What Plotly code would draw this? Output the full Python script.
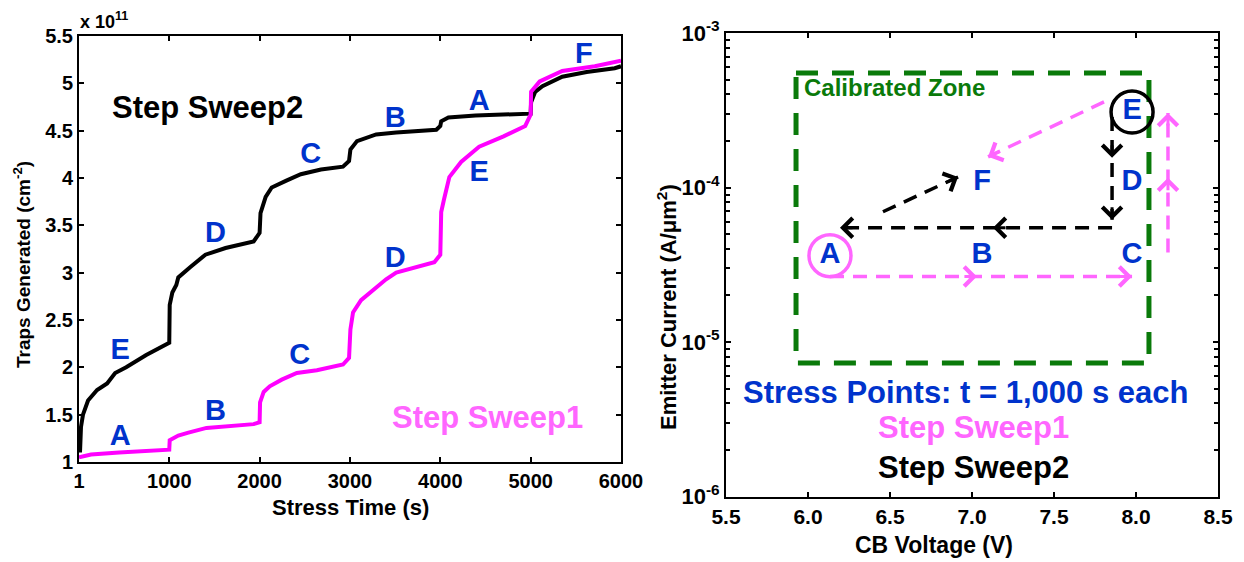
import math
import plotly.graph_objects as go

# ---------------- Left panel data (Traps Generated, x 1e11 cm^-2) ----------------
time_sweep2 = [12, 23, 45, 101, 201, 312, 401, 523, 745, 923, 1000, 1005, 1034, 1078, 1100, 1234,
               1400, 1623, 1934, 2000, 2010, 2067, 2134, 2290, 2456, 2679, 2923, 2990, 3005, 3078,
               3290, 3512, 3956, 4000, 4010, 4090, 4390, 5000, 5005, 5050, 5130, 5350, 5620, 5930, 6000]
traps_sweep2 = [1.10, 1.37, 1.50, 1.65, 1.76, 1.83, 1.94, 2.00, 2.13, 2.22, 2.26, 2.66, 2.79, 2.87, 2.95, 3.06,
                3.19, 3.26, 3.33, 3.42, 3.63, 3.80, 3.90, 3.97, 4.04, 4.09, 4.12, 4.18, 4.30, 4.39,
                4.46, 4.48, 4.51, 4.55, 4.60, 4.64, 4.66, 4.68, 4.80, 4.91, 4.97, 5.07, 5.12, 5.16, 5.18]

time_sweep1 = [1, 134, 445, 967, 1000, 1005, 1100, 1212, 1412, 1934, 2000, 2005, 2045, 2112, 2245, 2412,
               2634, 2923, 2990, 3005, 3034, 3123, 3256, 3400, 3512, 3934, 4000, 4010, 4040, 4100, 4230,
               4430, 4700, 4940, 5000, 5005, 5100, 5350, 5710, 5930, 6000]
traps_sweep1 = [1.05, 1.08, 1.10, 1.12, 1.13, 1.23, 1.28, 1.31, 1.36, 1.40, 1.42, 1.63, 1.74, 1.80, 1.87, 1.94,
                1.97, 2.03, 2.10, 2.40, 2.58, 2.71, 2.82, 2.93, 3.00, 3.11, 3.19, 3.64, 3.77, 4.01, 4.17,
                4.33, 4.44, 4.55, 4.67, 4.91, 5.02, 5.13, 5.18, 5.22, 5.24]

left_x_ticks = [1, 1000, 2000, 3000, 4000, 5000, 6000]
left_y_ticks = [1, 1.5, 2, 2.5, 3, 3.5, 4, 4.5, 5, 5.5]

# stress point labels on the curves
sweep2_lbl = ["E", "D", "C", "B", "A", "F"]
sweep2_lbl_x = [456, 1511, 2566, 3500, 4430, 5590]
sweep2_lbl_y = [2.16, 3.40, 4.23, 4.62, 4.80, 5.29]
sweep1_lbl = ["A", "B", "C", "D", "E"]
sweep1_lbl_x = [456, 1511, 2443, 3500, 4430]
sweep1_lbl_y = [1.26, 1.52, 2.11, 3.14, 4.04]

# ---------------- Right panel data (stress map) ----------------
right_x_ticks = [5.5, 6.0, 6.5, 7.0, 7.5, 8.0, 8.5]
right_y_ticks = [1e-6, 1e-5, 1e-4, 1e-3]
right_y_text = ["10<sup>-6</sup>", "10<sup>-5</sup>", "10<sup>-4</sup>", "10<sup>-3</sup>"]
right_y_minor = [m * 10.0 ** e for e in (-6, -5, -4) for m in range(2, 10)]

point_names = ["A", "B", "C", "D", "E", "F"]
point_vcb = [6.134, 7.061, 7.976, 7.976, 7.976, 7.061]
point_ie = [3.62e-5, 3.62e-5, 3.62e-5, 1.07e-4, 3.08e-4, 1.07e-4]

zone_v = [5.927, 8.079, 8.079, 5.927, 5.927]
zone_i = [5.51e-4, 5.51e-4, 7.31e-6, 7.31e-6, 5.51e-4]

# sweep paths: (V list, I list)
sweep1_paths = [
    ([6.134, 7.03, 7.976], [2.65e-5, 2.65e-5, 2.65e-5]),
    ([8.195, 8.195, 8.195], [3.79e-5, 1.156e-4, 3.04e-4]),
    ([7.805, 7.098], [3.58e-4, 1.58e-4]),
]
sweep2_paths = [
    ([7.854, 7.854, 7.854], [2.86e-4, 1.56e-4, 6.18e-5]),
    ([7.854, 7.128, 6.195], [5.49e-5, 5.49e-5, 5.49e-5]),
    ([6.457, 6.915], [6.97e-5, 1.17e-4]),
]

FONT = "Liberation Sans, Arial, sans-serif"
BLUE = "#0033cc"
MAG = "#ff00ff"
PINK = "#ff66ff"
GREEN = "#0a7a0a"

# page body has an 8px margin; figure is placed at (8, 8) in the window
OFF = 8
W, H = 1244 - OFF, 562 - OFF
def px(x):
    return (x - OFF) / W
def py(y):
    return 1 - (y - OFF) / H

# right panel pixel geometry (used for arrowhead orientation)
R_X0, R_X1, R_Y0, R_Y1 = 726, 1218, 33, 496.5
R_XR, R_YR = (5.5, 8.5), (-6, -3)
PX_PER_V = (R_X1 - R_X0) / (R_XR[1] - R_XR[0])
PX_PER_DEC = (R_Y1 - R_Y0) / (R_YR[1] - R_YR[0])

fig = go.Figure()

# left curves
fig.add_trace(go.Scatter(x=time_sweep2, y=traps_sweep2, mode="lines",
                         line=dict(color="black", width=4), xaxis="x", yaxis="y"))
fig.add_trace(go.Scatter(x=time_sweep1, y=traps_sweep1, mode="lines",
                         line=dict(color=MAG, width=4), xaxis="x", yaxis="y"))
lbl_font = dict(family=FONT, size=29, color=BLUE, weight="bold")
fig.add_trace(go.Scatter(x=sweep2_lbl_x, y=sweep2_lbl_y, mode="text", text=sweep2_lbl,
                         textfont=lbl_font, xaxis="x", yaxis="y"))
fig.add_trace(go.Scatter(x=sweep1_lbl_x, y=sweep1_lbl_y, mode="text", text=sweep1_lbl,
                         textfont=lbl_font, xaxis="x", yaxis="y"))

# right: calibrated zone
fig.add_trace(go.Scatter(x=zone_v, y=zone_i, mode="lines",
                         line=dict(color=GREEN, width=5, dash="22px,14px"), xaxis="x2", yaxis="y2"))

annotations = []

def add_path(vs, cur, color):
    fig.add_trace(go.Scatter(x=vs, y=cur, mode="lines",
                             line=dict(color=color, width=3.5, dash="14px,9px"),
                             xaxis="x2", yaxis="y2"))
    for k in range(1, len(vs)):
        dx = (vs[k] - vs[k - 1]) * PX_PER_V
        dy = -(math.log10(cur[k]) - math.log10(cur[k - 1])) * PX_PER_DEC
        ln = math.hypot(dx, dy)
        L = 14
        annotations.append(dict(
            x=vs[k], y=math.log10(cur[k]), xref="x2", yref="y2",
            ax=-dx / ln * L, ay=-dy / ln * L, axref="pixel", ayref="pixel", text="",
            showarrow=True, arrowhead=4, arrowwidth=3, arrowsize=1.25, arrowcolor=color))

for vs, cur in sweep1_paths:
    add_path(vs, cur, PINK)
for vs, cur in sweep2_paths:
    add_path(vs, cur, "black")

# circles around A and E
fig.add_trace(go.Scatter(x=[point_vcb[0]], y=[point_ie[0]], mode="markers",
                         marker=dict(symbol="circle-open", size=42, color=PINK, line=dict(width=3.5, color=PINK)),
                         xaxis="x2", yaxis="y2"))
fig.add_trace(go.Scatter(x=[point_vcb[4]], y=[point_ie[4]], mode="markers",
                         marker=dict(symbol="circle-open", size=42, color="black", line=dict(width=3.5, color="black")),
                         xaxis="x2", yaxis="y2"))
fig.add_trace(go.Scatter(x=point_vcb, y=point_ie, mode="text", text=point_names,
                         textfont=lbl_font, xaxis="x2", yaxis="y2"))

def axis_common(size):
    return dict(showgrid=False, zeroline=False, showline=True, linecolor="black", linewidth=2,
                mirror="ticks", ticks="inside", ticklen=5, tickcolor="black", tickwidth=1.5,
                automargin=False,
                tickfont=dict(family=FONT, size=size, color="black", weight="bold"))

fig.update_layout(
    width=W, height=H, margin=dict(l=0, r=0, t=0, b=0, autoexpand=False),
    paper_bgcolor="white", plot_bgcolor="white", showlegend=False,
    xaxis=dict(domain=[px(79), px(621)], range=[1, 6000], tickvals=left_x_ticks,
               anchor="y", **axis_common(20)),
    yaxis=dict(domain=[py(462), py(36)], range=[1, 5.5], tickvals=left_y_ticks,
               anchor="x", **axis_common(20)),
    xaxis2=dict(domain=[px(R_X0), px(R_X1)], range=list(R_XR), tickvals=right_x_ticks,
                tickformat=".1f", anchor="y2", **axis_common(21)),
    yaxis2=dict(domain=[py(R_Y1), py(R_Y0)], type="log", range=list(R_YR), tickvals=right_y_ticks,
                ticktext=right_y_text, anchor="x2",
                minor=dict(ticks="inside", ticklen=4, tickcolor="black", tickvals=right_y_minor),
                **axis_common(22)),
)

def txt(x, y, s, size, color="black", xanchor="center", yanchor="middle", angle=0, xref="paper", yref="paper"):
    annotations.append(dict(x=x, y=y, xref=xref, yref=yref, text=s, showarrow=False,
                            xanchor=xanchor, yanchor=yanchor, textangle=angle,
                            font=dict(family=FONT, size=size, color=color, weight="bold")))

# left panel text
txt(px(78), py(34), "x 10<sup>11</sup>", 18, xanchor="left", yanchor="bottom")
txt(px(350), py(507), "Stress Time (s)", 22)
txt(px(22), py(265), "Traps Generated (cm<sup>-2</sup>)", 19, angle=-90)
txt(1422, 4.75, "Step Sweep2", 31, xref="x", yref="y")
txt(4520, 1.47, "Step Sweep1", 31, color=PINK, xref="x", yref="y")

# right panel text
txt(px(934), py(545), "CB Voltage (V)", 23)
txt(px(667), py(307), "Emitter Current (A/μm<sup>2</sup>)", 22, angle=-90)
txt(px(802), py(87), "Calibrated Zone", 24, color=GREEN, xanchor="left")
txt(px(966), py(392), "Stress Points: t = 1,000 s each", 31, color=BLUE)
txt(px(973), py(427), "Step Sweep1", 31, color=PINK)
txt(px(973), py(467), "Step Sweep2", 31)

fig.update_layout(annotations=annotations)
fig.write_html("out.html")
